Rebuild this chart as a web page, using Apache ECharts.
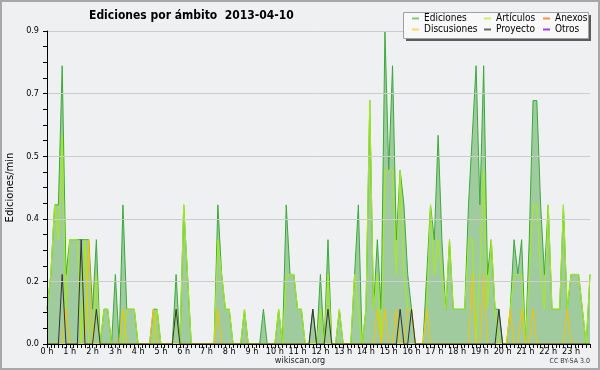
<!DOCTYPE html>
<html>
<head>
<meta charset="utf-8">
<script src="https://cdn.jsdelivr.net/npm/echarts@6/dist/echarts.min.js"></script>
<style>html,body{margin:0;padding:0;background:#eff0f2;}#c{width:600px;height:370px;}</style>
</head>
<body>
<div id="c"></div>
<script>
// 10-minute slots over the day (144 points)
const slots = [];
for (let h = 0; h < 24; h++) for (let m = 0; m < 60; m += 10) slots.push(h + ':' + (m < 10 ? '0' : '') + m);
const hourLabels = ['0 h','1 h','2 h','3 h','4 h','5 h','6 h','7 h','8 h','9 h','10 h','11 h','12 h','13 h','14 h','15 h','16 h','17 h','18 h','19 h','20 h','21 h','22 h','23 h'];

const ediciones = [
0.1,0.2,0.4,0.4,0.8,0.2,0.3,0.3,0.3,0.3,0.3,0.3,0.1,0.3,0,0.1,0.1,0,0.2,0,0.4,0.1,0.1,0.1,
0,0,0,0,0.1,0.1,0,0,0,0,0.2,0,0.4,0.2,0,0,0,0,0,0,0,0.4,0.2,0.1,
0.1,0,0,0,0.1,0,0,0,0,0.1,0,0,0,0.1,0,0.4,0.2,0.2,0.1,0.1,0,0,0.1,0,
0.2,0,0.3,0,0,0.1,0,0,0,0.2,0.4,0,0.1,0.7,0.1,0.3,0.1,0.9,0.5,0.8,0.3,0.5,0.4,0.2,
0.1,0,0,0,0.2,0.4,0.3,0.6,0.3,0.1,0.3,0.1,0.1,0.1,0.1,0.4,0.6,0.8,0.4,0.8,0.2,0.3,0.1,0.1,
0,0,0.1,0.3,0.2,0.3,0,0.3,0.7,0.7,0.4,0.2,0.4,0.1,0.1,0.1,0.4,0.1,0.2,0.2,0.2,0.1,0,0.2
];
const articulos = [
0.1,0.2,0.4,0.3,0.6,0.1,0.3,0.3,0.3,0,0.3,0,0,0.2,0,0.1,0.1,0,0,0,0,0.1,0.1,0.1,
0,0,0,0,0,0.1,0,0,0,0,0.1,0,0.4,0.2,0,0,0,0,0,0,0,0.3,0.2,0.1,
0.1,0,0,0,0.1,0,0,0,0,0,0,0,0,0.1,0,0.2,0.2,0.2,0.1,0.1,0,0,0,0,
0.1,0,0.2,0,0,0.1,0,0,0,0.2,0.1,0,0.1,0.7,0.1,0.2,0,0.5,0.5,0.5,0.2,0.5,0.2,0.1,
0.1,0,0,0,0.1,0.4,0.2,0.3,0.2,0.1,0.3,0.1,0.1,0.1,0.1,0.3,0.3,0,0.2,0.5,0.1,0.3,0.1,0,
0,0,0.1,0.2,0.2,0.2,0,0.2,0.4,0.4,0.2,0.1,0.4,0.1,0.1,0.1,0.4,0.1,0.2,0.2,0.2,0.1,0,0.2
];
const discusiones = [
0,0,0,0,0,0.1,0,0,0,0,0,0.3,0,0,0,0,0,0,0,0,0.1,0,0,0,
0,0,0,0,0.1,0,0,0,0,0,0,0,0,0,0,0,0,0,0,0,0,0.1,0,0,
0,0,0,0,0,0,0,0,0,0,0,0,0,0,0,0,0,0,0,0,0,0,0,0,
0,0,0,0,0,0,0,0,0,0,0,0,0,0,0,0.1,0,0.1,0,0,0.1,0,0,0.1,
0.1,0,0,0,0.1,0,0,0,0,0,0,0,0,0,0,0,0.2,0,0,0.2,0,0,0,0,
0,0,0.1,0,0,0.1,0,0,0.1,0,0,0,0,0,0,0,0,0.1,0,0,0,0,0,0
];
const proyecto = [
0,0,0,0,0.2,0,0,0,0,0.3,0,0,0,0.1,0,0,0,0,0,0,0,0,0,0,
0,0,0,0,0,0,0,0,0,0,0.1,0,0,0,0,0,0,0,0,0,0,0,0,0,
0,0,0,0,0,0,0,0,0,0,0,0,0,0,0,0,0,0,0,0,0,0,0.1,0,
0,0,0.1,0,0,0,0,0,0,0,0,0,0,0,0,0,0,0,0,0,0,0.1,0,0,
0.1,0,0,0,0,0,0,0,0,0,0,0,0,0,0,0,0,0,0,0,0,0,0,0.1,
0,0,0,0,0,0,0,0,0,0,0,0,0,0,0,0,0,0,0,0,0,0,0,0
];
const anexos = new Array(144).fill(0);
const otros = new Array(144).fill(0);

const FONT = "'DejaVu Sans Condensed','DejaVu Sans',sans-serif";
const chart = echarts.init(document.getElementById('c'), null, {renderer: 'canvas'});

function line(name, data, color, z, extra) {
  return Object.assign({
    name, type: 'line', data, z,
    symbol: 'none', animation: false,
    lineStyle: {color, width: 1},
    itemStyle: {color}
  }, extra || {});
}

const legendCommon = {
  orient: 'vertical', itemGap: 0, itemWidth: 7, itemHeight: 2, icon: 'rect', padding: 0,
  textStyle: {fontFamily: FONT, fontSize: 10, lineHeight: 11, color: '#000'}
};

chart.setOption({
  backgroundColor: '#eff0f2',
  animation: false,
  textStyle: {fontFamily: FONT},
  title: {
    text: 'Ediciones por ámbito  2013-04-10',
    left: 84, top: 5,
    textStyle: {fontFamily: FONT, fontSize: 12, fontWeight: 'bold', color: '#000'}
  },
  graphic: [
    {type: 'rect', shape: {x: 1, y: 1, width: 598, height: 368}, style: {fill: 'none', stroke: '#a8a8a8', lineWidth: 2}, z: 100},
    {type: 'rect', shape: {x: 406, y: 15, width: 185, height: 26}, style: {fill: '#5c5c5c'}, z: 50},
    {type: 'rect', shape: {x: 403.5, y: 12.5, width: 185, height: 26}, style: {fill: '#f8f8f8', stroke: '#a0a0a0', lineWidth: 1}, z: 51},
    {type: 'text', left: 'center', top: 356, style: {text: 'wikiscan.org', font: '9px ' + FONT, fill: '#222'}, z: 60},
    {type: 'text', right: 10, top: 358, style: {text: 'CC BY-SA 3.0', font: '7px ' + FONT, fill: '#333'}, z: 60}
  ],
  legend: [
    Object.assign({}, legendCommon, {left: 412, top: 13, data: ['Ediciones', 'Discusiones'], z: 60}),
    Object.assign({}, legendCommon, {left: 484, top: 13, data: ['Artículos', 'Proyecto'], z: 60}),
    Object.assign({}, legendCommon, {left: 543, top: 13, data: ['Anexos', 'Otros'], z: 60})
  ],
  grid: {left: 47, right: 10, top: 31, bottom: 26, containLabel: false, outerBoundsMode: 'none'},
  xAxis: {
    type: 'category', data: slots, boundaryGap: false, z: 10,
    axisLine: {lineStyle: {color: '#000', width: 1}},
    axisTick: {show: true, interval: 0, length: 4, lineStyle: {color: '#000'}},
    axisLabel: {
      interval: 5, margin: 3, fontSize: 9, color: '#000', fontFamily: FONT,
      formatter: (v, i) => hourLabels[Math.floor(i / 6)]
    },
    splitLine: {show: false}
  },
  yAxis: {
    type: 'value', min: 0, max: 0.9, interval: 0.18, z: 10,
    name: 'Ediciones/min', nameLocation: 'middle', nameGap: 31, nameRotate: 90,
    nameTextStyle: {fontFamily: "'DejaVu Sans',sans-serif", fontSize: 10, color: '#000'},
    axisLine: {show: true, lineStyle: {color: '#000', width: 1}},
    axisTick: {show: true, length: 4, lineStyle: {color: '#000'}},
    minorTick: {show: true, splitNumber: 4, length: 4, lineStyle: {color: '#000'}},
    axisLabel: {fontSize: 9, color: '#000', margin: 8, fontFamily: FONT, formatter: v => v.toFixed(1)},
    splitLine: {show: true, lineStyle: {color: '#cccccc', width: 1}}
  },
  series: [
    line('Ediciones', ediciones, '#3aaa3a', 2, {areaStyle: {color: '#a0cb9f', opacity: 1}, itemStyle: {color: '#7ccc7c'}}),
    line('Artículos', articulos, '#a6ee10', 3, {itemStyle: {color: '#c8f060'}}),
    line('Discusiones', discusiones, '#f5c400', 4, {itemStyle: {color: '#f8d860'}}),
    line('Proyecto', proyecto, '#333333', 5, {itemStyle: {color: '#666666'}}),
    line('Anexos', anexos, '#ff7744', 1, {itemStyle: {color: '#ff8855'}}),
    line('Otros', otros, '#9933ee', 1, {itemStyle: {color: '#9944ee'}})
  ]
});
</script>
</body>
</html>
